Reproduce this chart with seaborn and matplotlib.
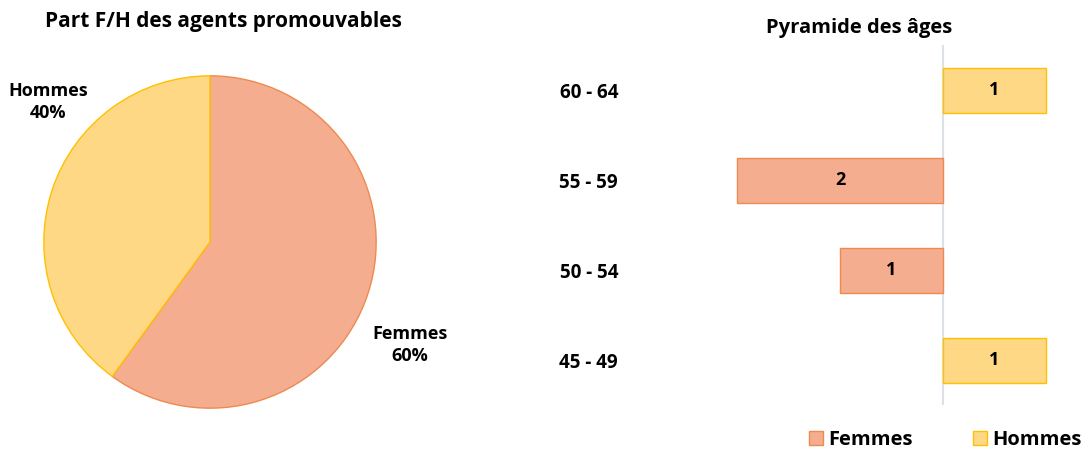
import numpy as np
import pandas as pd
import seaborn as sns
import matplotlib.pyplot as plt
from matplotlib.patches import Patch

# donnees
sexes = ['Femmes', 'Hommes']
parts = [60, 40]
tranches = ['60 - 64', '55 - 59', '50 - 54', '45 - 49']
femmes = [0, 2, 1, 0]
hommes = [1, 0, 0, 1]

fill = {'Femmes': '#F5AD90', 'Hommes': '#FFD886'}
edge = {'Femmes': '#EE8A4F', 'Hommes': '#FFC000'}

sns.set_theme(style='white')
plt.rcParams['font.family'] = ['Open Sans', 'DejaVu Sans']
plt.rcParams['font.weight'] = 'bold'
plt.rcParams['text.color'] = 'black'
plt.rcParams['ytick.color'] = 'black'

fig = plt.figure(figsize=(10.87, 4.54), dpi=100)

# Camembert
ax1 = fig.add_axes([43 / 1087, 1 - 409 / 454, 334 / 1087, 334 / 454])
wedges, _ = ax1.pie(parts, startangle=90, counterclock=False,
                    colors=[fill[s] for s in sexes],
                    wedgeprops=dict(linewidth=1))
for w, s in zip(wedges, sexes):
    w.set_edgecolor(edge[s])
ax1.set_xlim(-1.005, 1.005)
ax1.set_ylim(-1.005, 1.005)
ax1.set_aspect('equal')
fig.text(223 / 1087, 1 - 22 / 454, 'Part F/H des agents promouvables', ha='center', va='center',
         fontsize=15, fontweight='bold')
fig.text(48 / 1087, 1 - 102 / 454, 'Hommes\n40%', ha='center', va='center',
         fontsize=13, fontweight='bold', linespacing=1.25)
fig.text(410 / 1087, 1 - 345 / 454, 'Femmes\n60%', ha='center', va='center',
         fontsize=13, fontweight='bold', linespacing=1.25)

# Pyramide
df = pd.DataFrame({
    'tranche': tranches * 2,
    'sexe': ['Femmes'] * 4 + ['Hommes'] * 4,
    'valeur': [-v for v in femmes] + hommes,
})
df = df[df['valeur'] != 0]

ax2 = fig.add_axes([700 / 1087, 1 - 405 / 454, 380 / 1087, 360 / 454])
sns.barplot(data=df, y='tranche', x='valeur', hue='sexe', order=tranches,
            hue_order=sexes, palette=fill, dodge=False, width=0.5, saturation=1,
            orient='h', ax=ax2, legend=False, linewidth=1)
for cont, s in zip(ax2.containers, sexes):
    for p in cont:
        p.set_edgecolor(edge[s])
    ax2.bar_label(cont, labels=[f'{abs(p.get_width()):.0f}' for p in cont],
                  label_type='center', fontsize=13, fontweight='bold', color='black')
ax2.set_xlim((700 - 943) / 103, (1080 - 943) / 103)
ax2.set_ylim(3.5, -0.5)
ax2.axvline(0, color='#DCE1E8', linewidth=1.5, zorder=0)
ax2.set_xticks([])
ax2.set_xlabel('')
ax2.set_ylabel('')
ax2.tick_params(axis='y', length=0, pad=59, labelsize=13.5, labelcolor='black')
for t in ax2.get_yticklabels():
    t.set_fontweight('bold')
sns.despine(ax=ax2, left=True, bottom=True)
fig.text(859 / 1087, 1 - 28 / 454, 'Pyramide des âges', ha='center', va='center',
         fontsize=14.5, fontweight='bold')

handles = [Patch(facecolor=fill[s], edgecolor=edge[s], label=s) for s in sexes]
fig.legend(handles=handles, loc='center', bbox_to_anchor=(945 / 1087, 1 - 440 / 454),
           ncol=2, frameon=False, fontsize=14.5, handlelength=0.7, handleheight=0.7,
           handletextpad=0.25, columnspacing=3.0)

fig.savefig('out.png', dpi=100)
